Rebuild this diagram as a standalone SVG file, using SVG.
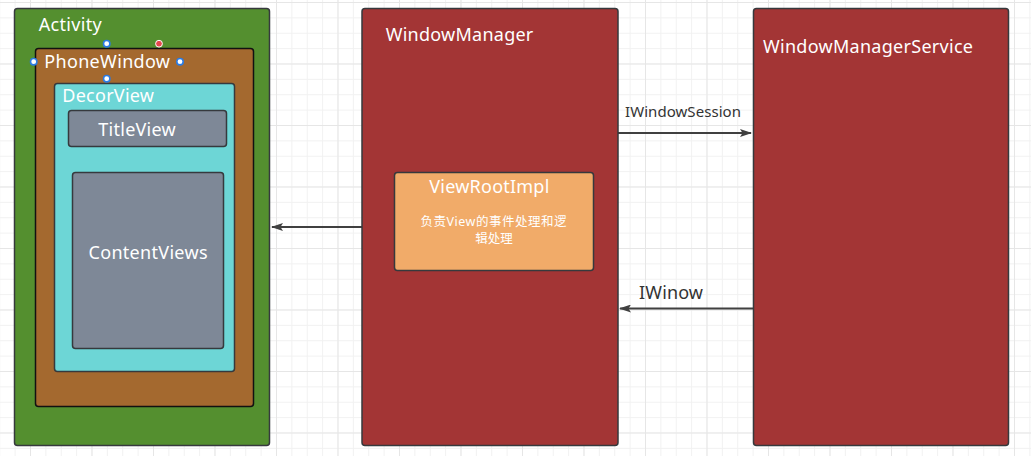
<svg xmlns="http://www.w3.org/2000/svg" width="1031" height="456" viewBox="0 0 1031 456">
<style>
.lbl{font-family:"Noto Sans","Open Sans","Liberation Sans",sans-serif;fill:#ffffff;font-size:18px}
.cn{font-family:"Noto Sans","Noto Sans CJK SC",sans-serif;fill:#ffffff;font-size:12.5px}
.edge{font-family:"Noto Sans","Open Sans","Liberation Sans",sans-serif;fill:#333333}
.box{stroke:#36393d;stroke-width:1.5}
.conn{stroke:#404040;stroke-width:2;fill:none}
.hdl{fill:#ffffff;stroke:#2a7be4;stroke-width:1.6}
</style>
<defs>
<pattern id="minor" x="30" y="2" width="15.375" height="15.375" patternUnits="userSpaceOnUse">
<path d="M0 0.5H15.375M0.5 0V15.375" stroke="#f1f1f1" stroke-width="1" fill="none"/>
</pattern>
<pattern id="major" x="30" y="2" width="61.5" height="61.5" patternUnits="userSpaceOnUse">
<path d="M0 0.5H61.5M0.5 0V61.5" stroke="#e6e6e6" stroke-width="1" fill="none"/>
</pattern>
<marker id="arr" viewBox="0 0 12 8" refX="11" refY="4" markerWidth="12" markerHeight="8" markerUnits="userSpaceOnUse" orient="auto">
<path d="M0 0L12 4L0 8L2.5 4Z" fill="#404040"/>
</marker>
</defs>
<rect width="1031" height="456" fill="#ffffff"/>
<rect width="1031" height="456" fill="url(#minor)"/>
<rect width="1031" height="456" fill="url(#major)"/>

<g id="connectors">
<line class="conn" x1="618" y1="133" x2="751" y2="133" marker-end="url(#arr)"/>
<line class="conn" x1="753" y1="308.5" x2="620" y2="308.5" marker-end="url(#arr)"/>
<line class="conn" x1="362" y1="227" x2="272" y2="227" marker-end="url(#arr)"/>
<text class="edge" x="625" y="117" font-size="15" textLength="116">IWindowSession</text>
<text class="edge" x="639" y="299" font-size="18" textLength="64">IWinow</text>
</g>

<g id="activity">
<rect class="box" x="14.5" y="8.5" width="255" height="437" rx="3" fill="#548f2f"/>
<text class="lbl" x="38.7" y="30.7" textLength="63">Activity</text>
</g>
<g id="phonewindow">
<rect x="35.5" y="48.5" width="218" height="358" rx="3" fill="#a4692f" stroke="#111111" stroke-width="1.5"/>
<text class="lbl" x="44.3" y="67.7" textLength="125.7">PhoneWindow</text>
</g>
<g id="decorview">
<rect class="box" x="54.5" y="83.5" width="180" height="288" rx="3" fill="#6dd6d6"/>
<text class="lbl" x="62.3" y="101.7" textLength="91.7">DecorView</text>
</g>
<g id="titleview">
<rect class="box" x="68.5" y="110.5" width="158" height="36" rx="3" fill="#7e8897"/>
<text class="lbl" x="98.3" y="135.7" textLength="77.4">TitleView</text>
</g>
<g id="contentviews">
<rect class="box" x="72.5" y="172.5" width="151" height="176" rx="3" fill="#7e8897"/>
<text class="lbl" x="148" y="258.5" text-anchor="middle" textLength="119">ContentViews</text>
</g>
<g id="selection-handles">
<circle class="hdl" cx="106.7" cy="43.7" r="3.2"/>
<circle class="hdl" cx="33.7" cy="61.7" r="3.2"/>
<circle class="hdl" cx="180" cy="61.7" r="3.2"/>
<circle class="hdl" cx="106.7" cy="78.7" r="3.2"/>
<circle cx="159" cy="43.7" r="3.4" fill="#e5484d" stroke="#ffffff" stroke-width="1"/>
</g>

<g id="windowmanager">
<rect class="box" x="362" y="8.5" width="256" height="437" rx="3" fill="#a33535"/>
<text class="lbl" x="385.7" y="40.7" textLength="147.6">WindowManager</text>
</g>
<g id="viewrootimpl">
<rect class="box" x="394.5" y="172.5" width="199" height="98" rx="3" fill="#f1ab69"/>
<text class="lbl" x="429.3" y="193.3" textLength="120">ViewRootImpl</text>
<text class="cn" text-anchor="middle"><tspan x="493.5" y="225.5" textLength="146">负责View的事件处理和逻</tspan><tspan x="494" y="242.5">辑处理</tspan></text>
</g>
<g id="windowmanagerservice">
<rect class="box" x="753.5" y="8.5" width="255" height="437" rx="3" fill="#a33535"/>
<text class="lbl" x="763" y="53" textLength="210">WindowManagerService</text>
</g>
</svg>
